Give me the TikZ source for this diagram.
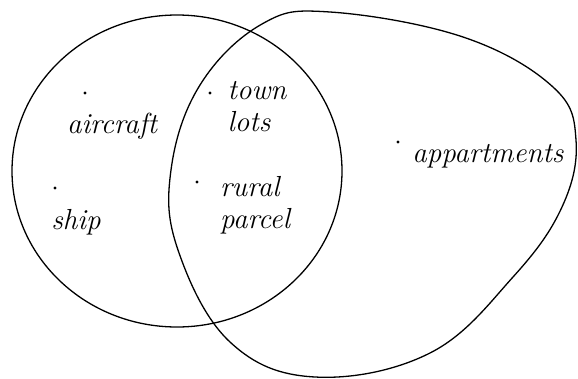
\documentclass[tikz,border=0pt]{standalone}
\usepackage{fontspec}
\usepackage{tikz}
\tikzset{
  conjunto/.style={line width=1.3pt, black},
  punto/.style={circle, fill=black, inner sep=0pt, minimum size=3.2pt},
  etiqueta/.style={font=\fontsize{29}{32}\selectfont\itshape, inner sep=0pt, align=left}
}
\begin{document}
\begin{tikzpicture}[x=1pt, y=-1pt]
    \useasboundingbox (0,0) rectangle (578,378);
    % Conjuntos
    \draw[conjunto] (177,171) ellipse (165 and 156);
    \draw[conjunto] plot[smooth cycle, tension=0.65] coordinates {
      (330,12) (463,37) (553,87) (576,140) (562,207) (513,277) (430,353)
      (315,377) (230,342) (178,250) (171,170) (200,85) (262,24)};
    % Elementos
    \node[punto] (pAircraft) at (85,93) {};
    \node[etiqueta] (aircraft) at (112,126) {aircraft};
    \node[punto] (pShip) at (55,188) {};
    \node[etiqueta] (ship) at (76,222) {ship};
    \node[punto] (pTown) at (210,93) {};
    \node[etiqueta] (town) at (257,107) {town\\lots};
    \node[punto] (pRural) at (197,182) {};
    \node[etiqueta] (rural) at (255,205) {rural\\parcel};
    \node[punto] (pAppart) at (398,142) {};
    \node[etiqueta] (appart) at (488,156) {appartments};
\end{tikzpicture}
\end{document}
